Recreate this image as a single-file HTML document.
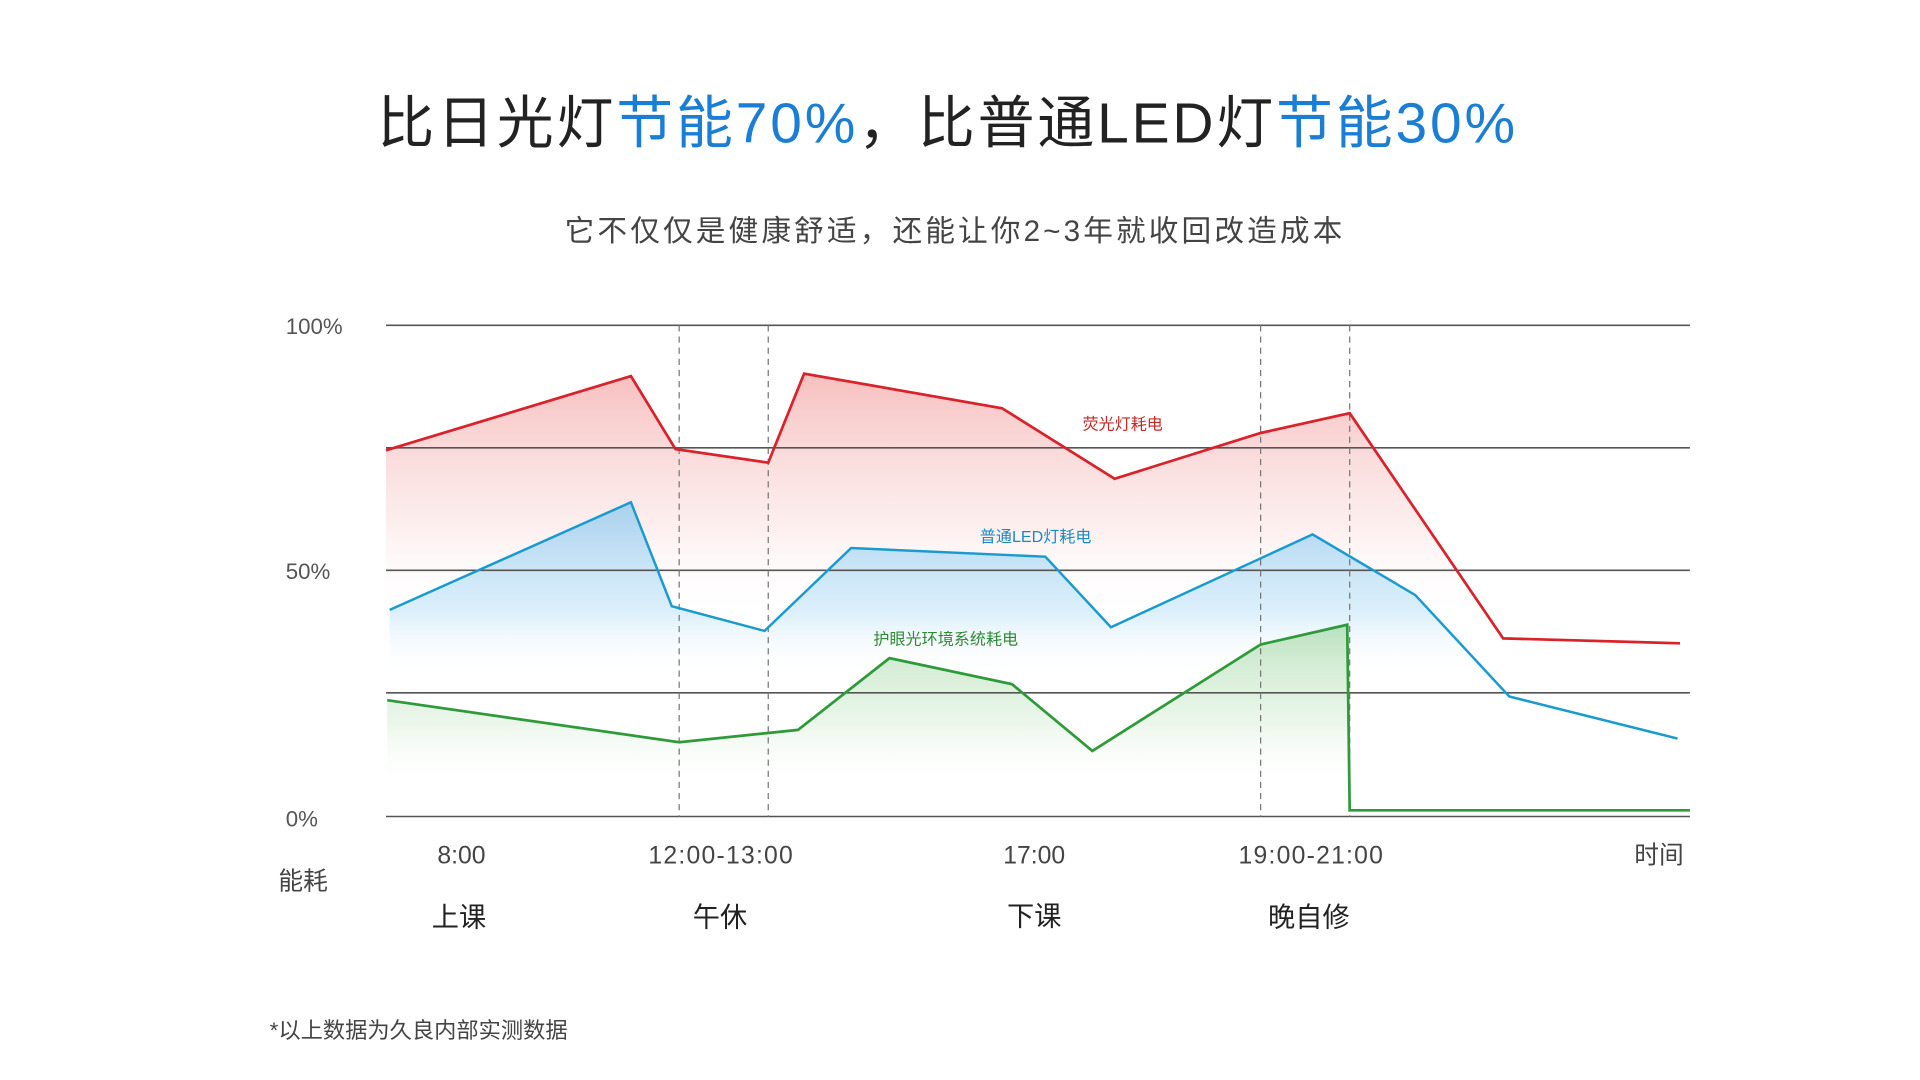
<!DOCTYPE html>
<html><head><meta charset="utf-8"><style>
html,body{margin:0;padding:0;background:#fff;}
svg{display:block;}
text{font-family:"Liberation Sans","Noto Sans CJK SC",sans-serif;}
</style></head><body>
<svg width="1920" height="1080" viewBox="0 0 1552 873" preserveAspectRatio="none" xmlns="http://www.w3.org/2000/svg">
<defs>
<linearGradient id="gr" x1="0" y1="0" x2="0" y2="1"><stop offset="0" stop-color="#f08a8a" stop-opacity="0.55"/><stop offset="0.35" stop-color="#f5b0b0" stop-opacity="0.2"/><stop offset="0.55" stop-color="#fff" stop-opacity="0"/></linearGradient>
<linearGradient id="gb" x1="0" y1="0" x2="0" y2="1"><stop offset="0" stop-color="#7cc4f0" stop-opacity="0.65"/><stop offset="0.35" stop-color="#b0dcf7" stop-opacity="0.45"/><stop offset="0.55" stop-color="#fff" stop-opacity="0"/></linearGradient>
<linearGradient id="gg" x1="0" y1="0" x2="0" y2="1"><stop offset="0" stop-color="#8fcf8f" stop-opacity="0.55"/><stop offset="0.5" stop-color="#b8e0b8" stop-opacity="0.3"/><stop offset="0.85" stop-color="#fff" stop-opacity="0"/></linearGradient>
</defs>
<text x="766" y="115" font-size="46" letter-spacing="2.3" text-anchor="middle" fill="#222"><tspan>比日光灯</tspan><tspan fill="#1a7fd4">节能70%</tspan><tspan>，比普通LED灯</tspan><tspan fill="#1a7fd4">节能30%</tspan></text>
<text x="772" y="195" font-size="24" letter-spacing="2.5" text-anchor="middle" fill="#444">它不仅仅是健康舒适，还能让你2~3年就收回改造成本</text>

<polygon fill="url(#gr)" points="312,364 510,304 546,363 621,374 650,302 810,330 901,387 1019,350 1091,334 1215,516 1358,520 1358,660 312,660"/>
<polygon fill="url(#gb)" points="315,493 510,406 543,490 618,510 688,443 845,450 898,507 1061,432 1144,481 1220,563 1356,597 1356,660 315,660"/>
<polygon fill="url(#gg)" points="313,566 549,600 645,590 719,532 818,553 883,607 1019,521 1089,505 1091,655 1091,660 313,660"/>

<g stroke="#555" stroke-width="1.3">
<line x1="312" y1="263" x2="1366" y2="263"/><line x1="312" y1="362" x2="1366" y2="362"/><line x1="312" y1="461" x2="1366" y2="461"/><line x1="312" y1="560" x2="1366" y2="560"/><line x1="312" y1="660" x2="1366" y2="660"/>
</g>
<g stroke="#777" stroke-width="1" stroke-dasharray="5,4">
<line x1="549" y1="263" x2="549" y2="660"/><line x1="621" y1="263" x2="621" y2="660"/><line x1="1019" y1="263" x2="1019" y2="660"/><line x1="1091" y1="263" x2="1091" y2="660"/>
</g>
<polyline fill="none" stroke="#d9222a" stroke-width="2.2" points="312,364 510,304 546,363 621,374 650,302 810,330 901,387 1019,350 1091,334 1215,516 1358,520"/>
<polyline fill="none" stroke="#1a9ad0" stroke-width="2" points="315,493 510,406 543,490 618,510 688,443 845,450 898,507 1061,432 1144,481 1220,563 1356,597"/>
<polyline fill="none" stroke="#2e9a3a" stroke-width="2.2" points="313,566 549,600 645,590 719,532 818,553 883,607 1019,521 1089,505 1091,655 1366,655"/>

<text x="875" y="347" font-size="13" fill="#c62828">荧光灯耗电</text>
<text x="792" y="438" font-size="13" fill="#1a8ac6">普通LED灯耗电</text>
<text x="706" y="521" font-size="13" fill="#2e8a34">护眼光环境系统耗电</text>

<g font-size="18" fill="#555">
<text x="231" y="270">100%</text><text x="231" y="468">50%</text><text x="231" y="668">0%</text>
</g>
<g font-size="20" fill="#444" text-anchor="middle">
<text x="373" y="698">8:00</text><text x="583" y="698" letter-spacing="1">12:00-13:00</text><text x="836" y="698">17:00</text><text x="1060" y="698" letter-spacing="1">19:00-21:00</text><text x="1341" y="698">时间</text><text x="245" y="719">能耗</text>
</g>
<g font-size="22" fill="#222" text-anchor="middle">
<text x="371" y="749">上课</text><text x="582" y="749">午休</text><text x="836" y="748">下课</text><text x="1058" y="749">晚自修</text>
</g>
<text x="218" y="839" font-size="18" fill="#444">*以上数据为久良内部实测数据</text>
</svg>
</body></html>
